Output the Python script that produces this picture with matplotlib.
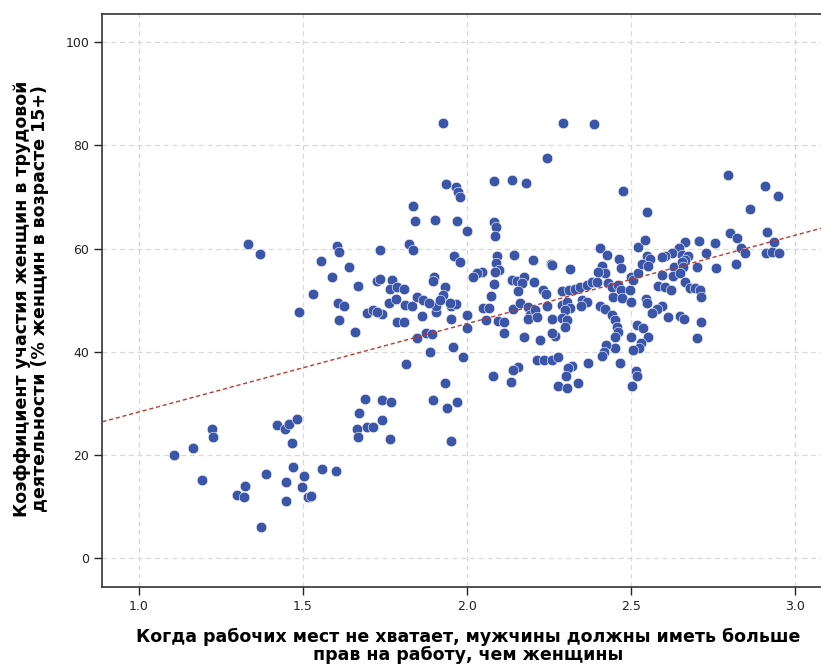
import numpy as np
import matplotlib
matplotlib.use('Agg')
import matplotlib.pyplot as plt

# agreement: "when jobs are scarce, men should have more right to a job than women"
x = [1.107, 1.165, 1.224, 1.227, 1.192, 1.299, 1.323, 1.321, 1.372, 1.388,
     1.422, 1.444, 1.458, 1.483, 1.466, 1.470, 1.449, 1.448, 1.333, 1.369,
     1.488, 1.504, 1.497, 1.515, 1.524, 1.557, 1.600, 1.670, 1.690, 1.664,
     1.669, 1.694, 1.715, 1.740, 1.768, 1.742, 1.766, 1.815, 1.896, 1.934,
     1.938, 1.969, 1.952, 1.888, 1.956, 1.988, 1.846, 1.874, 1.893, 1.660,
     1.611, 1.608, 1.625, 1.694, 1.715, 1.742, 1.786, 1.808, 1.862, 1.905,
     1.906, 1.952, 1.952, 1.966, 1.530, 1.554, 1.590, 1.603, 1.611, 1.641,
     1.669, 1.735, 1.725, 1.735, 1.726, 1.772, 1.765, 1.786, 1.808, 1.762,
     1.783, 1.812, 1.832, 1.822, 1.835, 1.836, 1.841, 1.903, 1.936, 1.966,
     1.973, 1.979, 1.969, 2.001, 1.960, 1.978, 1.900, 1.897, 1.934, 1.928,
     1.918, 1.847, 1.867, 1.885, 1.948, 1.999, 2.001, 1.927, 2.292, 2.388,
     2.243, 2.083, 2.137, 2.180, 2.474, 2.547, 2.083, 2.087, 2.086, 2.092,
     2.144, 2.200, 2.255, 2.260, 2.312, 2.088, 2.098, 2.085, 2.045, 2.030,
     2.019, 2.083, 2.136, 2.151, 2.172, 2.167, 2.156, 2.205, 2.232, 2.240,
     2.072, 2.050, 2.068, 2.058, 2.095, 2.111, 2.113, 2.139, 2.161, 2.185,
     2.192, 2.207, 2.187, 2.212, 2.174, 2.222, 2.243, 2.260, 2.268, 2.258,
     2.288, 2.309, 2.329, 2.344, 2.364, 2.380, 2.395, 2.288, 2.304, 2.314,
     2.299, 2.349, 2.365, 2.347, 2.288, 2.304, 2.299, 2.405, 2.426, 2.410,
     2.420, 2.400, 2.430, 2.440, 2.464, 2.468, 2.461, 2.469, 2.446, 2.471,
     2.405, 2.420, 2.440, 2.451, 2.456, 2.461, 2.451, 2.451, 2.423, 2.418,
     2.410, 2.466, 2.369, 2.212, 2.235, 2.258, 2.278, 2.319, 2.307, 2.300,
     2.339, 2.278, 2.304, 2.080, 2.154, 2.141, 2.134, 2.515, 2.519, 2.503,
     2.500, 2.517, 2.500, 2.505, 2.500, 2.520, 2.522, 2.496, 2.542, 2.547,
     2.557, 2.532, 2.552, 2.583, 2.604, 2.620, 2.664, 2.644, 2.624, 2.604,
     2.594, 2.654, 2.674, 2.664, 2.630, 2.654, 2.659, 2.700, 2.593, 2.628,
     2.649, 2.664, 2.679, 2.695, 2.710, 2.714, 2.545, 2.547, 2.593, 2.578,
     2.563, 2.611, 2.649, 2.662, 2.713, 2.537, 2.550, 2.531, 2.524, 2.506,
     2.700, 2.705, 2.729, 2.755, 2.757, 2.801, 2.822, 2.833, 2.847, 2.818,
     2.914, 2.935, 2.912, 2.928, 2.950, 2.796, 2.908, 2.946, 2.863]

# female labour force participation rate, % of women aged 15+
y = [20.0, 21.4, 25.1, 23.4, 15.1, 12.3, 13.9, 11.8, 6.0, 16.4,
     25.9, 25.1, 26.0, 27.0, 22.3, 17.6, 14.8, 11.0, 60.9, 59.0,
     47.7, 15.9, 13.8, 11.9, 12.1, 17.2, 16.9, 28.2, 30.8, 25.1,
     23.4, 25.5, 25.4, 30.7, 30.3, 26.8, 23.1, 37.6, 30.7, 34.0,
     29.1, 30.3, 22.7, 39.9, 40.9, 39.0, 42.6, 43.6, 43.4, 43.8,
     46.2, 49.5, 48.8, 47.5, 48.1, 47.3, 45.7, 45.8, 47.0, 47.8,
     48.8, 46.3, 48.9, 49.2, 51.2, 57.6, 54.5, 60.5, 59.4, 56.4,
     52.8, 59.7, 53.7, 54.2, 47.7, 53.9, 52.1, 52.6, 52.1, 49.5,
     50.3, 49.0, 48.8, 60.9, 59.7, 68.2, 65.4, 65.5, 72.5, 72.0,
     71.0, 70.1, 65.4, 63.4, 58.5, 57.4, 54.5, 53.7, 52.6, 51.0,
     50.1, 50.7, 50.1, 49.4, 49.4, 47.2, 44.6, 84.3, 84.4, 84.2,
     77.6, 73.2, 73.4, 72.7, 71.2, 67.1, 65.2, 64.1, 62.5, 58.6,
     58.8, 57.8, 57.0, 56.8, 56.0, 57.3, 55.9, 55.5, 55.5, 55.2,
     54.5, 53.2, 53.9, 53.8, 54.6, 53.3, 51.7, 53.5, 52.0, 51.2,
     50.8, 48.5, 48.5, 46.2, 46.0, 45.7, 43.6, 48.3, 49.4, 48.6,
     47.2, 48.1, 46.3, 46.8, 42.9, 42.3, 48.8, 46.3, 43.1, 43.6,
     51.7, 51.9, 52.2, 52.6, 53.0, 53.6, 53.6, 49.1, 49.7, 48.5,
     48.1, 50.1, 49.7, 48.8, 46.5, 46.2, 44.9, 60.1, 58.8, 56.6,
     55.2, 55.5, 53.3, 52.6, 57.9, 56.2, 53.0, 52.0, 50.7, 50.4,
     48.8, 48.3, 47.2, 46.2, 44.9, 43.9, 42.9, 40.8, 41.3, 40.0,
     39.1, 37.8, 37.8, 38.4, 38.4, 38.4, 39.0, 37.3, 36.8, 35.3,
     33.9, 33.3, 32.9, 35.3, 37.1, 36.5, 34.2, 36.2, 35.3, 33.4,
     42.8, 45.2, 54.6, 54.0, 49.7, 60.4, 55.2, 52.0, 61.7, 58.5,
     57.9, 57.0, 56.6, 52.8, 52.6, 52.0, 61.3, 60.1, 59.1, 58.5,
     58.3, 58.8, 58.5, 57.8, 56.5, 57.5, 56.5, 56.5, 54.9, 54.7,
     55.3, 53.6, 52.4, 52.3, 52.0, 50.7, 50.2, 49.5, 48.9, 48.3,
     47.6, 46.8, 47.0, 46.4, 45.8, 44.6, 42.9, 41.7, 40.8, 40.4,
     42.6, 61.5, 59.1, 61.0, 56.2, 63.1, 62.0, 60.1, 59.2, 57.0,
     63.2, 61.2, 59.1, 59.4, 59.2, 74.2, 72.2, 70.2, 67.6]

xticks = [1.0, 1.5, 2.0, 2.5, 3.0]
yticks = [0, 20, 40, 60, 80, 100]

xlabel = 'Когда рабочих мест не хватает, мужчины должны иметь больше\nправ на работу, чем женщины'
ylabel = 'Коэффициент участия женщин в трудовой\nдеятельности (% женщин в возрасте 15+)'

plt.rcParams['font.family'] = ['DejaVu Sans']

fig = plt.figure(figsize=(8.21, 6.68), dpi=100)
ax = fig.add_axes([0.1246, 0.1219, 0.8754, 0.8573])

xmin, xmax = 0.889, 3.078
ax.set_xlim(xmin, xmax)
ax.set_ylim(-5.5, 105.5)

ax.grid(True, color='#d8d8d8', linestyle=(0, (4, 3)), linewidth=0.9)
ax.set_axisbelow(True)

ax.scatter(x, y, s=58, color='#3b55a9', edgecolors='white', linewidths=0.4, zorder=3)

# linear fit line over whole axis
k, b = np.polyfit(x, y, 1)
xl = np.array([xmin, xmax])
ax.plot(xl, k * xl + b, color='#c0392b', linestyle=(0, (3, 2)), linewidth=1.0, zorder=4)

ax.set_xticks(xticks)
ax.set_xticklabels(['%.1f' % t for t in xticks])
ax.set_yticks(yticks)
ax.tick_params(labelsize=9, length=6, width=1.0, colors='#222222')

for s in ['left', 'bottom', 'top']:
    ax.spines[s].set_linewidth(1.2)
    ax.spines[s].set_color('#333333')
ax.spines['right'].set_visible(False)

fig.text(0.570, 0.033, xlabel, ha='center', va='center', fontsize=12.5,
         fontweight='bold', multialignment='center', linespacing=1.0)
fig.text(0.0375, 0.553, ylabel, ha='center', va='center', rotation=90,
         fontsize=12.5, fontweight='bold', multialignment='center', linespacing=1.0)

plt.savefig('out.png', dpi=100)
